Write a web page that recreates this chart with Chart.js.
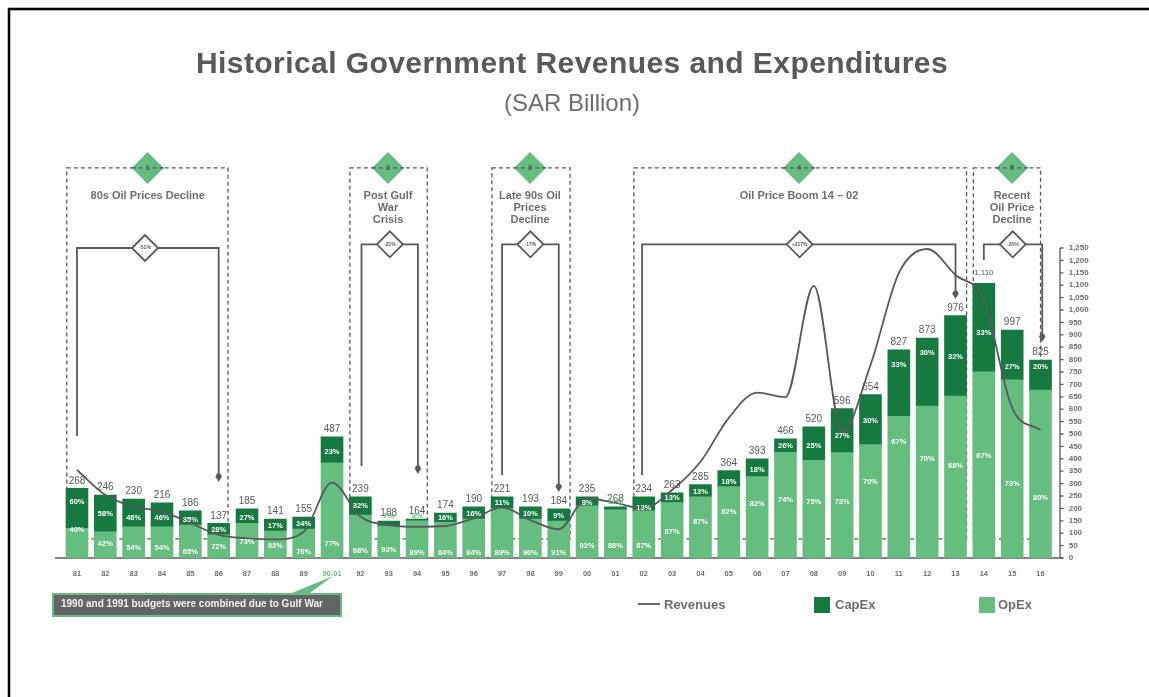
<!DOCTYPE html>
<html><head><meta charset="utf-8">
<style>html,body{margin:0;padding:0;background:#fff;overflow:hidden}#wrap{position:relative;width:1149px;height:697px}canvas{filter:blur(.5px)}</style>
<script src="https://cdn.jsdelivr.net/npm/chart.js@4/dist/chart.umd.min.js"></script>
</head><body><div id="wrap"><canvas id="c" width="1149" height="697"></canvas></div>
<script>
const categories=['81','82','83','84','85','86','87','88','89','90-91','92','93','94','95','96','97','98','99','00','01','02','03','04','05','06','07','08','09','10','11','12','13','14','15','16'];
const opex=[120,106,126,126,133,93,140,109,117,384,173,129,150,144,157,199,157,149,210,194,190,223,247,288,328,426,394,425,457,571,613,653,751,718,677];
const capex=[161,148,112,96,57,47,58,48,48,105,74,20,7,37,49,48,49,49,37,12,57,40,49,64,72,55,135,177,202,268,274,324,357,201,121];
const revenues=[355,254,207,187,141,93,79,75,106,304,167,133,126,129,160,204,153,116,241,222,200,274,388,565,667,649,1097,508,778,1149,1246,1141,1040,605,516];
const totalLabels=['268','246','230','216','186','137','185','141','155','487','239','188','164','174','190','221','193','184','235','268','234','263','285','364','393','466','520','596','654','827','873','976','1,110','997','825'];
const capexPct=[60,58,46,46,35,28,27,17,24,23,32,7,3,16,16,11,10,9,8,12,13,13,13,18,18,26,25,27,30,33,30,32,33,27,20];
const opexPct=[40,42,54,54,65,72,73,83,76,77,68,93,89,84,84,89,90,91,92,88,87,87,87,82,82,74,75,73,70,67,70,68,67,73,80];
const capexLabelAt=[226,177,161,161,153,113,161,130,137,429,210,171,171,163,177,222,177,169,223,227,200,241,265,308,355,453,453,493,551,778,827,809,906,769,769];
const opexLabelAt=[113,56,40,40,25,46,63,48,25,56,29,32,21,21,21,21,21,21,48,48,48,104,144,184,218,233,226,226,308,469,398,371,411,298,242];
const yTicks=[0,50,100,150,200,250,300,350,400,450,500,550,600,650,700,750,800,850,900,950,1000,1050,1100,1150,1200,1250];
const periodNames=[['80s Oil Prices Decline'],['Post Gulf','War','Crisis'],['Late 90s Oil','Prices','Decline'],['Oil Price Boom 14 – 02'],['Recent','Oil Price','Decline']];
const periodNumbers=['1','2','3','4','5'];
const periodChanges=['-51%','-31%','-17%','+317%','-26%'];
const callout='1990 and 1991 budgets were combined due to Gulf War';
const title='Historical Government Revenues and Expenditures';
const subtitle='(SAR Billion)';

const GRAY='#58595b',SOFT='#6d6e71',DARK='#167a40',LIGHT='#66bd80',FONT='"Liberation Sans",Arial,sans-serif';
// annotation geometry, in category units / axis values
const boxes=[[-.36,5.33],[9.63,12.36],[14.64,17.4],[19.65,31.39],[31.63,34]];
const brackets=[
 {a:0,b:5,top:1250,endA:492,endB:323,d:2.4},
 {a:10.04,b:12.03,top:1265,endA:371,endB:355,d:11.04},
 {a:15,b:17,top:1265,endA:335,endB:282,d:16},
 {a:19.94,b:31,top:1265,endA:335,endB:1060,d:25.5},
 {a:32,b:34.06,top:1265,endA:1202,endB:887,d:33.02}];
const BOX_TOP=1573,BOX_BOTTOM=77;

const behind={id:'behind',beforeDatasetsDraw(ch){
 const c=ch.ctx,X=ch.scales.x,Y=ch.scales.y,x0=X.getPixelForValue(0),st=X.getPixelForValue(1)-x0;
 const px=i=>x0+st*i;
 c.save();
 c.strokeStyle='#000';c.lineWidth=2.5;c.beginPath();c.moveTo(9,700);c.lineTo(9,9);c.lineTo(1150,9);c.stroke();
 c.textAlign='center';c.textBaseline='middle';
 c.fillStyle=GRAY;c.font='bold 30px '+FONT;c.letterSpacing='0.43px';c.fillText(title,572,65);c.letterSpacing='0px';
 c.fillStyle=SOFT;c.font='24px '+FONT;c.fillText(subtitle,572,104);
 c.strokeStyle=GRAY;c.lineWidth=1.5;c.beginPath();c.moveTo(55,Y.getPixelForValue(0));c.lineTo(1063,Y.getPixelForValue(0));c.stroke();
 c.lineWidth=1.3;c.setLineDash([4,3]);
 boxes.forEach(b=>{c.strokeRect(px(b[0]),Y.getPixelForValue(BOX_TOP),px(b[1])-px(b[0]),Y.getPixelForValue(BOX_BOTTOM)-Y.getPixelForValue(BOX_TOP));});
 c.setLineDash([]);
 boxes.forEach((b,i)=>{
  const cx=[147.7,388,530,799,1012][i],cy=Y.getPixelForValue(BOX_TOP);
  c.fillStyle=LIGHT;c.beginPath();c.moveTo(cx-16,cy);c.lineTo(cx,cy-16);c.lineTo(cx+16,cy);c.lineTo(cx,cy+16);c.closePath();c.fill();
  c.strokeStyle=GRAY;c.lineWidth=1.3;c.setLineDash([4,3]);c.beginPath();c.moveTo(cx-16,cy);c.lineTo(cx+16,cy);c.stroke();c.setLineDash([]);
  c.fillStyle=GRAY;c.font='bold 8px '+FONT;c.fillText(periodNumbers[i],cx,cy);
  c.font='bold 11px '+FONT;c.fillStyle=SOFT;
  periodNames[i].forEach((t,k)=>c.fillText(t,cx,195.5+k*12.2));
 });
 brackets.forEach((b,i)=>{
  const t=Y.getPixelForValue(b.top),xa=px(b.a),xb=px(b.b),ya=Y.getPixelForValue(b.endA),yb=Y.getPixelForValue(b.endB),cx=px(b.d);
  c.strokeStyle=GRAY;c.lineWidth=1.8;c.beginPath();c.moveTo(xa,ya);c.lineTo(xa,t);c.lineTo(xb,t);c.lineTo(xb,yb);c.stroke();
  c.fillStyle=GRAY;c.beginPath();c.moveTo(xb-3.5,yb-2);c.lineTo(xb+3.5,yb-2);c.lineTo(xb,yb+4);c.closePath();c.fill();
  c.beginPath();c.arc(xb,yb-2,2.6,0,7);c.fill();
  c.fillStyle='#fff';c.beginPath();c.moveTo(cx-13,t);c.lineTo(cx,t-13);c.lineTo(cx+13,t);c.lineTo(cx,t+13);c.closePath();c.fill();c.stroke();
  c.fillStyle=GRAY;c.font='bold 5px '+FONT;c.fillText(periodChanges[i],cx,t);
 });
 c.fillStyle=LIGHT;c.beginPath();c.moveTo(287,595);c.lineTo(333,576);c.lineTo(307,595);c.closePath();c.fill();
 c.fillStyle='#636466';c.strokeStyle=LIGHT;c.lineWidth=2;c.fillRect(53,594,288,22);c.strokeRect(53,594,288,22);
 c.fillStyle='#f2f2f2';c.textAlign='left';c.font='bold 10px '+FONT;c.fillText(callout,61,604.5);
 c.strokeStyle=GRAY;c.lineWidth=1.8;c.beginPath();c.moveTo(638,604);c.lineTo(660,604);c.stroke();
 c.fillStyle=DARK;c.fillRect(814,597,16,16);c.fillStyle=LIGHT;c.fillRect(979,597,16,16);
 c.fillStyle=SOFT;c.font='bold 13px '+FONT;c.fillText('Revenues',664,605);c.fillText('CapEx',835,605);c.fillText('OpEx',998,605);
 c.restore();
}};
const front={id:'front',afterDatasetsDraw(ch){
 const c=ch.ctx,X=ch.scales.x,Y=ch.scales.y;
 c.save();c.textAlign='center';c.textBaseline='middle';
 categories.forEach((k,i)=>{
  const x=X.getPixelForValue(i),top=Y.getPixelForValue(opex[i]+capex[i]);
  c.fillStyle=GRAY;c.font=(i===32?'8px ':'10px ')+FONT;c.fillText(totalLabels[i],x,top-(i===32?10.5:7.5));
  c.font='bold 7.5px '+FONT;
  c.fillStyle=capexLabelAt[i]>opex[i]+capex[i]?LIGHT:'#fff';
  c.fillText(capexPct[i]+'%',x,Y.getPixelForValue(capexLabelAt[i]));
  c.fillStyle='#fff';
  c.fillText(opexPct[i]+'%',x,Y.getPixelForValue(opexLabelAt[i]));
 });
 c.strokeStyle=GRAY;c.lineWidth=1.3;c.beginPath();c.moveTo(1060,Y.getPixelForValue(1250));c.lineTo(1060,Y.getPixelForValue(0));
 yTicks.forEach(v=>{const y=Y.getPixelForValue(v);c.moveTo(1060,y);c.lineTo(1063.5,y);});c.stroke();
 c.restore();
}};
new Chart(document.getElementById('c'),{
 data:{labels:categories,datasets:[
  {type:'line',label:'Revenues',data:revenues,borderColor:GRAY,borderWidth:1.8,pointRadius:0,cubicInterpolationMode:'monotone',order:0},
  {type:'bar',label:'OpEx',data:opex,backgroundColor:LIGHT,barThickness:22,stack:'s',order:1},
  {type:'bar',label:'CapEx',data:capex,backgroundColor:DARK,barThickness:22,stack:'s',order:2}]},
 plugins:[behind,front],
 options:{responsive:false,animation:false,
  layout:{padding:{left:62.8,right:54.3,top:248,bottom:119}},
  plugins:{legend:{display:false},tooltip:{enabled:false},title:{display:false}},
  scales:{
   x:{stacked:true,grid:{display:false},border:{display:false},afterFit(s){s.height=20},
      ticks:{font:{family:FONT,size:7.5,weight:'bold'},padding:3,maxRotation:0,autoSkip:false,color:c=>c.index===9?LIGHT:SOFT}},
   y:{position:'right',stacked:true,min:0,max:1250,grid:{display:false},border:{display:false},afterFit(s){s.width=40},
      afterBuildTicks(s){s.ticks=yTicks.map(v=>({value:v}))},
      ticks:{autoSkip:false,font:{family:FONT,size:8,weight:'bold'},color:SOFT,padding:6,callback:v=>v.toLocaleString('en-US')}}
  }}
});
</script></body></html>
